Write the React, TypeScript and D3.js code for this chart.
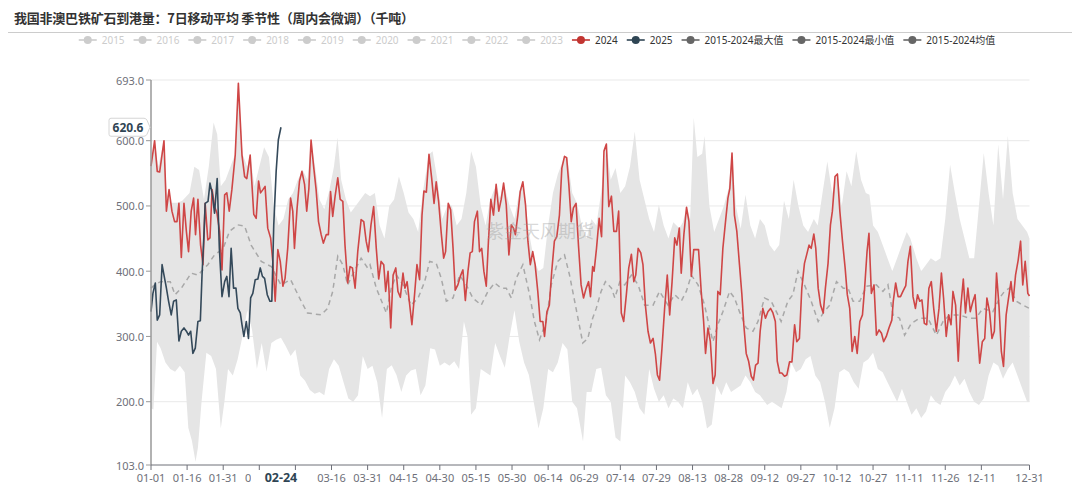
import React, { useEffect, useMemo } from 'react';
import * as d3 from 'd3';

const W = 1080;
const H = 485;
const PLOT = { left: 151, right: 1029.5, top: 80, bottom: 465 };
const FONT = "'Noto Sans', 'Noto Sans CJK SC', sans-serif";

const TITLE = '我国非澳巴铁矿石到港量：7日移动平均 季节性（周内会微调）（千吨）';
const WATERMARK = '紫金天风期货';

// category axis: every day of a leap year
const DATES: string[] = d3
  .timeDay.range(new Date(2024, 0, 1), new Date(2025, 0, 1))
  .map((d) => d3.timeFormat('%m-%d')(d));

const X_TICK_LABELS = [
  '01-01', '01-16', '01-31', '02-15', '03-01', '03-16', '03-31', '04-15', '04-30',
  '05-15', '05-30', '06-14', '06-29', '07-14', '07-29', '08-13', '08-28', '09-12',
  '09-27', '10-12', '10-27', '11-11', '11-26', '12-11', '12-31',
];
const Y_TICKS = [103, 200, 300, 400, 500, 600, 693];

const POINTER_DATE = '02-24';
const POINTER_VALUE = 620.6;

const LEGEND_NAMES = [
  '2015', '2016', '2017', '2018', '2019', '2020', '2021', '2022', '2023',
  '2024', '2025', '2015-2024最大值', '2015-2024最小值', '2015-2024均值',
];
const LEGEND_ACTIVE = [false, false, false, false, false, false, false, false, false, true, true, true, true, true];

const COLOR_2024 = '#cf4646';
const COLOR_2025 = '#34495a';
const COLOR_BAND = '#e5e5e5';
const COLOR_MEAN = '#a8a8a8';

// [day index, value]
const S2025: [number, number][] = [
  [0, 338], [0.8, 366], [1.8, 382], [2.6, 325], [3.6, 333], [4.6, 410], [5.4, 394], [6.4, 374],
  [7.3, 354], [8.4, 333], [9.4, 354], [10.5, 356], [11.6, 293], [12.6, 308], [13.7, 313],
  [14.7, 308], [15.6, 302], [16.5, 308], [17.4, 274], [18.4, 282], [19.5, 323], [20.5, 324],
  [21.2, 394], [22, 456], [22.5, 504], [23.7, 507], [24.5, 535], [25.4, 520], [26.4, 489],
  [27.5, 542], [28.4, 435], [29.5, 361], [30.6, 384], [31.5, 392], [32.4, 361], [33.3, 435],
  [34.3, 374], [35.3, 374], [36.1, 343], [37.1, 336], [37.8, 318], [38.6, 300], [39.6, 323],
  [40.5, 297], [41.4, 359], [42.3, 366], [43.3, 387], [44.4, 388], [45.4, 405], [46.3, 392],
  [47.2, 389], [48.3, 364], [49.4, 354], [50.2, 354], [51, 471], [52, 553], [52.9, 601], [54, 620.6],
];

const S2024: [number, number][] = [
  [0, 561], [1.5, 600], [2.6, 553], [3.6, 552], [5.4, 600], [6.4, 492], [7.5, 525], [8.7, 492],
  [9.8, 476], [10.8, 476], [11.6, 504], [12.6, 421], [13.7, 504], [14.7, 461], [15.6, 430],
  [16.7, 492], [17.7, 512], [18.5, 456], [19.5, 510], [20.6, 440], [21.6, 410], [22.5, 504],
  [23.6, 448], [24.5, 451], [25.4, 525], [26.4, 499], [27.4, 489], [28.5, 461], [29.5, 402],
  [30.6, 517], [31.5, 520], [32.5, 492], [33.6, 525], [35, 578], [36.3, 688], [37.8, 578],
  [38.9, 545], [39.8, 542], [41.2, 578], [42.7, 487], [43.7, 481], [44.7, 538], [45.5, 520],
  [46.5, 525], [47.4, 530], [48.5, 466], [49.7, 451], [50.6, 415], [51.6, 354], [52.7, 433],
  [53.7, 415], [54.8, 377], [55.7, 389], [56.8, 435], [58, 512], [58.9, 492], [59.6, 435],
  [60.7, 497], [61.7, 538], [62.7, 553], [63.8, 533], [64.7, 492], [65.6, 527], [66.5, 601],
  [67.5, 563], [68.6, 525], [69.6, 476], [70.7, 456], [71.6, 443], [72.8, 456], [73.7, 456],
  [74.6, 522], [75.5, 484], [76.5, 515], [77.6, 543], [78.6, 510], [79.7, 507], [80.6, 440],
  [81.7, 382], [82.7, 407], [83.7, 405], [84.8, 374], [85.9, 430], [87.3, 479], [88.4, 476],
  [89.4, 446], [90.3, 430], [91.4, 471], [92.5, 499], [93.6, 435], [94.6, 388], [95.6, 415],
  [96.7, 410], [97.5, 369], [98.5, 400], [99.6, 313], [100.6, 394], [101.7, 405], [102.6, 369],
  [103.6, 360], [104.7, 397], [105.5, 374], [106.4, 384], [107.5, 348], [108.4, 318], [109.5, 364],
  [110.5, 410], [111.6, 387], [112.6, 486], [113.4, 523], [114.4, 521], [115.5, 579], [116.6, 543],
  [117.6, 504], [118.5, 537], [119.5, 507], [120.6, 458], [121.6, 420], [122.4, 430], [123.5, 504],
  [124.5, 494], [125.5, 435], [126.4, 371], [127.5, 379], [128.5, 392], [129.6, 402], [130.6, 355],
  [131.7, 400], [132.6, 428], [133.5, 430], [134.4, 476], [135.6, 492], [136.5, 430], [137.4, 435],
  [138.3, 400], [139.3, 377], [140.2, 446], [141.2, 510], [142.3, 486], [143.4, 533], [144.5, 492],
  [145.5, 510], [146.5, 535], [147.6, 502], [148.7, 425], [149.7, 471], [150.6, 466], [151.4, 456],
  [152.4, 486], [153.4, 522], [154.5, 537], [155.6, 502], [156.6, 446], [157.6, 410], [158.6, 430],
  [159.6, 410], [160.7, 369], [161.7, 323], [162.8, 323], [163.5, 300], [164.5, 338], [165.5, 348],
  [166.5, 400], [167.6, 446], [168.6, 453], [169.7, 486], [170.7, 558], [171.8, 576], [172.7, 574],
  [173.6, 533], [174.6, 476], [175.5, 497], [176.6, 504], [177.6, 440], [178.7, 379], [179.7, 359],
  [180.8, 374], [181.8, 384], [182.6, 361], [183.5, 407], [184.1, 400], [185.1, 435], [186.2, 481],
  [187.2, 453], [188.2, 584], [189.2, 595], [190.2, 499], [191.3, 515], [192.3, 461], [193.4, 461],
  [194.3, 492], [195.4, 336], [196.4, 323], [197.5, 364], [198.5, 405], [199.6, 426], [200.6, 384],
  [201.4, 394], [202.4, 435], [203.5, 428], [204.4, 410], [205.4, 348], [206.5, 308], [207.5, 290],
  [208.6, 297], [209.6, 272], [210.4, 241], [211.3, 233], [212.3, 282], [213.4, 343], [214.5, 394],
  [215.5, 333], [216.5, 384], [217.6, 451], [218.5, 440], [219.5, 466], [220.3, 397], [221.4, 456],
  [222.5, 498], [223.5, 476], [224.5, 392], [225.5, 433], [226.6, 433], [227.5, 433], [228.6, 369],
  [229.6, 323], [230.4, 274], [231.4, 313], [232.4, 292], [233.5, 228], [234.4, 241], [235.5, 369],
  [236.5, 364], [237.6, 435], [238.7, 476], [239.7, 512], [240.5, 527], [241.4, 581], [242.4, 486],
  [243.4, 461], [244.5, 410], [245.5, 364], [246.3, 318], [247.3, 274], [248.3, 262], [249.4, 239],
  [250.3, 233], [251.2, 256], [252.2, 259], [253.1, 308], [254.2, 343], [255.3, 328], [256.3, 338],
  [257.4, 343], [258.4, 336], [259.4, 323], [260.2, 262], [261.2, 244], [262.1, 244], [263.2, 239],
  [264.2, 241], [265.3, 261], [266.3, 261], [267.4, 318], [268.3, 292], [269.4, 297], [270.4, 374],
  [271.5, 412], [272.4, 425], [273.4, 440], [274.3, 435], [275.4, 457], [276.2, 435], [277.2, 374],
  [278.2, 348], [279.3, 336], [280.2, 374], [281.3, 412], [282.3, 471], [283.1, 492], [284.2, 545],
  [285.2, 549], [286.2, 492], [287.3, 446], [288.4, 405], [289.3, 364], [290.3, 343], [291.3, 277],
  [292.4, 300], [293.4, 274], [294.5, 323], [295.6, 333], [296.5, 374], [297.5, 430], [298.3, 458],
  [299.3, 366], [300.4, 379], [301.4, 302], [302.5, 310], [303.5, 305], [304.4, 292], [305.5, 300],
  [306.6, 313], [307.8, 325], [308.4, 354], [309.4, 382], [310.4, 361], [311.4, 361], [312.4, 369],
  [313.6, 378], [314.5, 415], [315.5, 438], [316.6, 361], [317.6, 343], [318.5, 364], [319.4, 354],
  [320.3, 356], [321.3, 320], [322.3, 318], [323.2, 374], [324.2, 384], [325.2, 343], [326.3, 308],
  [327.4, 343], [328.4, 397], [329.3, 359], [330.4, 300], [331.4, 333], [332.4, 318], [333.2, 369],
  [334.3, 348], [335.4, 262], [336.4, 343], [337.5, 388], [338.4, 336], [339.4, 374], [340.4, 338],
  [341.5, 354], [342.4, 364], [343.4, 308], [344.3, 259], [345.4, 292], [346.4, 297], [347.3, 359],
  [348.4, 338], [349.4, 297], [350.4, 308], [351.3, 397], [352.3, 348], [353.3, 277], [354.2, 254],
  [355.3, 333], [356.3, 359], [357.3, 384], [358.2, 354], [359.2, 394], [360.3, 417], [361.3, 446],
  [362.2, 379], [363.2, 415], [364.3, 366], [365, 362],
];

const MAX_2015_2024: [number, number][] = [
  [0, 562], [1.5, 600], [3, 560], [5.4, 600], [6.5, 520], [8, 505], [11, 505], [13, 508],
  [16, 520], [18, 560], [20, 555], [22, 510], [24, 560], [26, 628], [27.5, 610], [29, 530],
  [31, 540], [33, 560], [35, 580], [36.3, 688], [38, 580], [40, 560], [41.2, 578], [43, 530],
  [45, 560], [47, 590], [49, 575], [51, 500], [53, 470], [55, 480], [57, 510], [59, 520],
  [61, 540], [63, 555], [65, 540], [66.5, 601], [68, 565], [70, 510], [72, 495], [74, 522],
  [76, 560], [77.5, 605], [79, 540], [81, 510], [83, 490], [85, 500], [87, 510], [89, 520],
  [91, 515], [93, 520], [95, 470], [97, 450], [99, 500], [101, 510], [103, 545], [105, 520],
  [107, 490], [109, 480], [111, 460], [113, 523], [115.5, 579], [117, 584], [119, 540], [121, 480],
  [123.5, 504], [125, 500], [127, 470], [129, 480], [131, 520], [133, 584], [135, 560], [137, 500],
  [139, 470], [141, 510], [143.4, 533], [145, 512], [146.5, 535], [149, 500], [151, 480], [153, 522],
  [154.5, 537], [157, 460], [159, 420], [161, 400], [163, 405], [165, 470], [167, 520], [169, 548],
  [171.8, 576], [173, 574], [175, 520], [177, 504], [179, 470], [181, 450], [183, 480], [185, 470],
  [187, 520], [189.2, 595], [191, 540], [193, 558], [195, 520], [197, 530], [199, 560], [201, 614],
  [203, 540], [205, 510], [207, 480], [209, 460], [211, 502], [213, 470], [215, 450], [217, 475],
  [219.5, 466], [221, 475], [222.5, 498], [224, 480], [225.5, 635], [227, 575], [229, 580], [230, 607],
  [232, 500], [234, 460], [236, 480], [238, 500], [240, 527], [241.4, 581], [243, 500], [245, 465],
  [247, 517], [249, 470], [251, 450], [253, 480], [255, 470], [257, 440], [259, 430], [261, 440],
  [263, 508], [265, 480], [267, 540], [269, 500], [271, 470], [273, 460], [275.4, 480], [277, 470],
  [279, 520], [281, 568], [283, 520], [285.2, 549], [287, 500], [289, 553], [291, 530], [293, 584],
  [295, 540], [297, 520], [298.5, 517], [300, 470], [302, 460], [304, 440], [306, 420], [308, 400],
  [310, 420], [312, 440], [314, 460], [315.5, 450], [318, 420], [320, 400], [322, 410], [324, 420],
  [326, 415], [328, 420], [330, 480], [332, 563], [334, 520], [336, 480], [338, 450], [340, 420],
  [342, 420], [344, 500], [346, 581], [348, 520], [350, 470], [352, 594], [354, 510], [356, 607],
  [358, 520], [360, 480], [362, 470], [364, 460], [365, 450],
];

const MIN_2015_2024: [number, number][] = [
  [0, 190], [1, 188], [2.5, 292], [4, 282], [6, 260], [8, 250], [10, 246], [12, 255], [14, 245],
  [15.5, 160], [17, 140], [18.5, 108], [19.5, 130], [21, 200], [23, 275], [25, 270], [27, 250],
  [29, 159], [30.5, 200], [32, 250], [34, 240], [36, 265], [38, 300], [40, 340], [42, 310],
  [44, 250], [46, 290], [48, 246], [50, 290], [52, 295], [54, 298], [56, 285], [58, 270], [60, 280],
  [62, 240], [64, 232], [66, 218], [68, 212], [70, 215], [72, 210], [74, 250], [76, 265], [78, 255],
  [80, 230], [82, 205], [84, 200], [86, 210], [88, 270], [90, 250], [92, 255], [94, 230], [96, 175],
  [98, 250], [100, 256], [102, 241], [104, 215], [106, 240], [108, 248], [110, 250], [112, 210],
  [114, 225], [116, 282], [118, 280], [120, 255], [122, 260], [124, 255], [126, 262], [128, 250],
  [130, 323], [131.5, 300], [133, 180], [135, 190], [137, 250], [139, 245], [141, 240], [143, 290],
  [145, 270], [147, 252], [149, 300], [151, 340], [153, 292], [155, 260], [157, 241], [159, 200],
  [161, 159], [163, 190], [165, 250], [167, 245], [169, 260], [171, 290], [173, 280], [175, 200],
  [177, 190], [179.5, 139], [181, 215], [183, 215], [185, 250], [187, 252], [189, 210], [191, 200],
  [193, 145], [195, 139], [197, 240], [199, 230], [201, 215], [203, 190], [205, 180], [207, 250],
  [209, 220], [211, 200], [213, 210], [215, 190], [217, 205], [219, 200], [221, 190], [223, 230],
  [225, 210], [227, 220], [229, 200], [231, 159], [233, 165], [235, 225], [237, 210], [239, 230],
  [241, 215], [243, 220], [245, 225], [247, 240], [249, 230], [251, 215], [253, 210], [256, 195],
  [258, 200], [260, 195], [262, 190], [264, 215], [266, 260], [268, 245], [270, 250], [272, 265],
  [274, 270], [276, 240], [278, 230], [280, 200], [282, 160], [284, 190], [286, 245], [288, 250],
  [290, 245], [292, 230], [294, 220], [296, 260], [298, 265], [300, 275], [302, 250], [304, 245],
  [306, 230], [308, 215], [310, 200], [312, 220], [314, 200], [316, 180], [318, 190], [320, 175],
  [322, 185], [324, 210], [326, 200], [328, 195], [330, 215], [332, 225], [334, 240], [336, 225],
  [338, 235], [340, 215], [342, 200], [344, 195], [346, 205], [348, 240], [350, 260], [352, 255],
  [354, 235], [356, 250], [358, 260], [360, 240], [362, 220], [364, 200], [365, 200],
];

const MEAN_2015_2024: [number, number][] = [
  [0, 374], [1.5, 379], [4, 384], [8, 384], [10, 364], [12.6, 374], [16.7, 397], [19.5, 394],
  [23.6, 410], [26.4, 425], [30, 435], [32.6, 461], [36, 471], [38.9, 469], [41.6, 440], [45.8, 415],
  [50, 407], [54, 379], [58, 387], [62.4, 354], [65, 336], [70.7, 333], [73.4, 343], [75.5, 369],
  [77.6, 423], [79.7, 410], [81.7, 379], [84.5, 400], [87.3, 420], [90, 405], [91, 410], [93.6, 374],
  [97.8, 336], [99.8, 374], [102, 394], [104.7, 379], [108, 348], [111, 359], [113.7, 384],
  [115.8, 415], [118.5, 412], [120.6, 389], [122.7, 354], [125.5, 359], [128.2, 394], [131, 379],
  [133.7, 359], [137.2, 348], [140, 369], [142.8, 382], [145.5, 374], [147.6, 374], [149.7, 359],
  [151.7, 389], [154.5, 410], [157.3, 364], [159.3, 323], [161.4, 295], [164.2, 323], [166.3, 379],
  [169, 415], [171.8, 425], [173.9, 394], [176.6, 343], [179.4, 290], [181.5, 297], [183.5, 328],
  [185, 343], [187, 369], [188.8, 384], [191.3, 374], [192.7, 359], [194.8, 384], [196.8, 379],
  [199.6, 394], [202.4, 379], [205.1, 348], [208.6, 348], [211.3, 369], [214.8, 348], [217.6, 364],
  [220.3, 354], [222.4, 369], [224.5, 394], [227.3, 379], [230, 348], [232.1, 313], [233.5, 292],
  [235.5, 318], [237.6, 338], [240.4, 369], [242.4, 359], [244.5, 338], [247.3, 313], [250.1, 308],
  [252.2, 323], [254.9, 359], [257.7, 354], [259.8, 338], [261.8, 323], [264.6, 354], [266.7, 364],
  [268.8, 400], [271.5, 379], [274.3, 354], [277.2, 323], [279.3, 336], [282, 348], [284.8, 384],
  [287.6, 374], [289.6, 374], [291.7, 354], [294.5, 354], [297.2, 377], [301.4, 379], [304.1, 369],
  [306.2, 379], [308.3, 333], [311, 328], [313.1, 302], [315.9, 320], [319.4, 328], [322.8, 328],
  [326.3, 302], [329.1, 323], [331.8, 333], [335.9, 333], [340, 328], [342.8, 328], [345.6, 343],
  [349.8, 338], [352.6, 359], [354.6, 369], [356.7, 374], [359.5, 354], [362.2, 348], [365, 343],
];

// rough text width at 10px: digits, hyphen, CJK
function legendTextWidth(text: string) {
  let w = 0;
  for (const ch of text) {
    if (/[0-9]/.test(ch)) w += 5.7;
    else if (ch === '-') w += 3.3;
    else w += 10;
  }
  return w;
}

export default function App() {
  useEffect(() => {
    document.body.style.margin = '0';
  }, []);

  const x = d3.scaleLinear().domain([0, DATES.length - 1]).range([PLOT.left, PLOT.right]);
  const y = d3.scaleLinear().domain([103, 693]).range([PLOT.bottom, PLOT.top]);
  const line = d3.line<[number, number]>().x((d) => x(d[0])).y((d) => y(d[1]));

  const bandPath =
    (line(MAX_2015_2024) ?? '') +
    (line([...MIN_2015_2024].reverse()) ?? '').replace(/^M/, 'L') +
    'Z';

  const legend = useMemo(() => {
    const iconW = 18;
    const gap = 5;
    const itemGap = 9;
    const textW = LEGEND_NAMES.map(legendTextWidth);
    const widths = textW.map((t) => iconW + gap + t);
    const total = d3.sum(widths) + itemGap * (widths.length - 1);
    let cx = 537 - total / 2;
    return LEGEND_NAMES.map((name, i) => {
      const item = { name, x: cx, tw: textW[i], active: LEGEND_ACTIVE[i] };
      cx += widths[i] + itemGap;
      return item;
    });
  }, []);

  const legendColor = (i: number) => {
    if (!LEGEND_ACTIVE[i]) return '#cccccc';
    if (LEGEND_NAMES[i] === '2024') return '#c23531';
    if (LEGEND_NAMES[i] === '2025') return '#2f4554';
    return '#666666';
  };

  const pointerX = x(DATES.indexOf(POINTER_DATE));
  const pointerY = y(POINTER_VALUE);

  return (
    <svg width={W} height={H} style={{ display: 'block', background: '#fff' }} fontFamily={FONT}>
      {/* Title */}
      <text
        x={14}
        y={23}
        fontSize={13}
        fontWeight="bold"
        fill="#333"
        fontFamily="'Noto Sans CJK SC', sans-serif"
        textLength={400}
        lengthAdjust="spacing"
      >
        {TITLE}
      </text>
      <line x1={8} x2={1072} y1={32.5} y2={32.5} stroke="#cccccc" strokeWidth={1} />

      {/* Legend */}
      {legend.map((it, i) => {
        const c = legendColor(i);
        return (
          <g key={it.name} transform={`translate(${it.x},40)`}>
            <line x1={0} x2={18} y1={0} y2={0} stroke={c} strokeWidth={1.6} />
            <circle cx={9} cy={0} r={4} fill={c} />
            <text
              x={23}
              y={0}
              dominantBaseline="central"
              fontSize={10}
              fill={it.active ? '#333' : '#cccccc'}
              textLength={it.tw}
              lengthAdjust="spacingAndGlyphs"
            >
              {it.name}
            </text>
          </g>
        );
      })}

      {/* Grid */}
      {Y_TICKS.filter((t) => t !== 103).map((t) => (
        <line key={t} x1={PLOT.left} x2={PLOT.right} y1={y(t)} y2={y(t)} stroke="#e9e9e9" strokeWidth={1} />
      ))}

      {/* Band between 2015-2024 min and max */}
      <path d={bandPath} fill={COLOR_BAND} stroke="none" />

      {/* Mean */}
      <path d={line(MEAN_2015_2024) ?? ''} fill="none" stroke={COLOR_MEAN} strokeWidth={1.5} strokeDasharray="5,4" />

      {/* 2024 */}
      <path d={line(S2024) ?? ''} fill="none" stroke={COLOR_2024} strokeWidth={1.6} strokeLinejoin="round" />

      {/* 2025 */}
      <path d={line(S2025) ?? ''} fill="none" stroke={COLOR_2025} strokeWidth={1.6} strokeLinejoin="round" />

      {/* Watermark */}
      <text x={540} y={238} textAnchor="middle" fontSize={18} fill="#9a9a9a" fillOpacity={0.4} fontFamily="'Noto Sans CJK SC', sans-serif">
        {WATERMARK}
      </text>

      {/* Y axis */}
      <line x1={PLOT.left} x2={PLOT.left} y1={PLOT.top} y2={PLOT.bottom} stroke="#999" strokeWidth={1.5} />
      {Y_TICKS.map((t) => (
        <g key={t} transform={`translate(${PLOT.left},${y(t)})`}>
          <line x1={-5} x2={0} stroke="#999" />
          <text x={-7} dominantBaseline="central" textAnchor="end" fontSize={11} fill="#6e7079">
            {t.toFixed(1)}
          </text>
        </g>
      ))}

      {/* X axis */}
      <line x1={PLOT.left} x2={PLOT.right} y1={PLOT.bottom} y2={PLOT.bottom} stroke="#6e7079" strokeWidth={1} />
      {X_TICK_LABELS.map((lab) => {
        const px = x(DATES.indexOf(lab));
        return (
          <g key={lab} transform={`translate(${px},${PLOT.bottom})`}>
            <line y1={0} y2={5} stroke="#6e7079" />
            <text y={12} dominantBaseline="central" textAnchor="middle" fontSize={11} fill="#6e7079">
              {lab}
            </text>
          </g>
        );
      })}

      {/* Axis pointer labels */}
      <g transform={`translate(${pointerX},${PLOT.bottom})`}>
        <rect x={-30} y={5.5} width={60} height={19} fill="#fff" />
        <text y={12.5} dominantBaseline="central" textAnchor="middle" fontSize={12.5} fontWeight="bold" fill="#2f4554">
          {POINTER_DATE}
        </text>
      </g>
      <g transform={`translate(${PLOT.left},${pointerY})`}>
        <path
          d="M-40,-9 L-7,-9 Q-5,-9 -4,-7 L-1,0 L-4,7 Q-5,9 -7,9 L-40,9 Q-42,9 -42,7 L-42,-7 Q-42,-9 -40,-9 Z"
          fill="#fff"
          stroke="#d6d6d6"
          strokeWidth={1}
        />
        <text x={-23} dominantBaseline="central" textAnchor="middle" fontSize={12} fontWeight="bold" fill="#2f4554">
          {POINTER_VALUE.toFixed(1)}
        </text>
      </g>
    </svg>
  );
}
